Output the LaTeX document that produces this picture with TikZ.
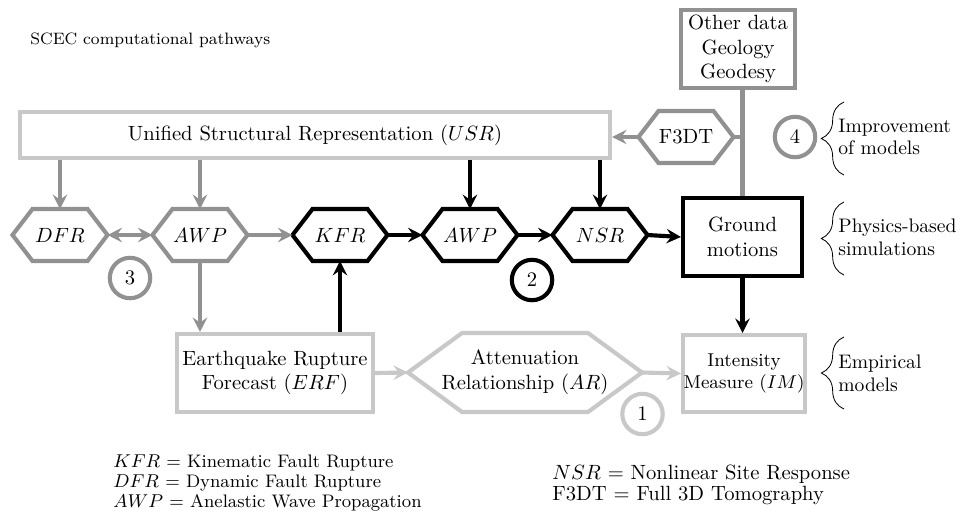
\documentclass[tikz,border=0pt]{standalone}
\usetikzlibrary{arrows.meta,decorations.pathreplacing,calc}
\definecolor{lgray}{RGB}{200,200,200}
\definecolor{mgray}{RGB}{145,145,145}
\newcommand\hexout[3]{\draw[#3,line width=2pt,line join=miter] (#1.west) -- ([xshift=#2]#1.north west) -- ([xshift=-#2]#1.north east) -- (#1.east) -- ([xshift=-#2]#1.south east) -- ([xshift=#2]#1.south west) -- cycle;}
\tikzset{
  box/.style={draw,line width=2pt,align=center,inner sep=0pt},
  hexnode/.style={minimum width=46.1pt,minimum height=25.2pt,inner sep=0pt,outer sep=0pt},
  num/.style={circle,draw,line width=2pt,minimum size=19.6pt,inner sep=0pt},
  arr/.style={line width=2pt,-{Stealth[length=7pt,width=7pt,inset=2.5pt]}},
  dblarr/.style={line width=2pt,{Stealth[length=7pt,width=7pt,inset=2.5pt]}-{Stealth[length=7pt,width=7pt,inset=2.5pt]}},
  bracestyle/.style={decorate,decoration={brace,amplitude=11pt},thin},
  side/.style={anchor=west,align=left,inner sep=0pt,font=\fontsize{9.5}{11}\selectfont},
  legend/.style={anchor=north west,align=left,inner sep=0pt,font=\fontsize{8.8}{9.8}\selectfont}
}
\begin{document}
\begin{tikzpicture}[x=0.485pt,y=-0.485pt]
\useasboundingbox (0,0) rectangle (964,511);
% title
\node[anchor=west,inner sep=0pt,font=\fontsize{8}{10}\selectfont] (title) at (30,40) {SCEC computational pathways};
% boxes
\node[box,lgray,minimum width=286.2pt,minimum height=22.3pt] (usr) at (315,135) {};
\node at (usr) {Unified Structural Representation ($USR$)};
\node[box,mgray,minimum width=55.3pt,minimum height=37.8pt] (other) at (738,49) {};
\node[align=center] at (other) {Other data\\Geology\\Geodesy};
\node[box,black,minimum width=57.7pt,minimum height=37.8pt] (gm) at (742.5,237) {};
\node[align=center] at (gm) {Ground\\motions};
\node[box,lgray,minimum width=59.2pt,minimum height=37.3pt] (im) at (744,373.5) {};
\node[align=center,font=\small] at (im) {Intensity\\Measure ($IM$)};
\node[box,lgray,minimum width=95.1pt,minimum height=37.8pt] (erf) at (275,373) {};
\node[align=center] at (erf) {Earthquake Rupture\\Forecast ($ERF$)};
% hexagons
\node[hexnode,minimum width=113.5pt,minimum height=38.3pt] (ar) at (525,372.5) {};
\hexout{ar}{26.2pt}{lgray}
\node[align=center] at (ar) {Attenuation\\Relationship ($AR$)};
\node[hexnode] (dfr) at (60,235) {$DFR$};
\hexout{dfr}{9.7pt}{mgray}
\node[hexnode] (awpg) at (200,235) {$AWP$};
\hexout{awpg}{9.7pt}{mgray}
\node[hexnode] (kfr) at (340,235) {$KFR$};
\hexout{kfr}{9.7pt}{black}
\node[hexnode] (awpb) at (470,235) {$AWP$};
\hexout{awpb}{9.7pt}{black}
\node[hexnode] (nsr) at (600,235) {$NSR$};
\hexout{nsr}{9.7pt}{black}
\node[hexnode] (f3dt) at (686,137) {F3DT};
\hexout{f3dt}{9.7pt}{mgray}
% numbered circles
\node[num,lgray,text=black] (c1) at (642.5,414) {1};
\node[num,black] (c2) at (532,280) {2};
\node[num,mgray,text=black] (c3) at (130,278) {3};
\node[num,mgray,text=black] (c4) at (795,137) {4};
% connectors
\draw[arr,mgray] (dfr.north |- usr.south) -- (dfr.north);
\draw[arr,mgray] (awpg.north |- usr.south) -- (awpg.north);
\draw[arr,black] (awpb.north |- usr.south) -- (awpb.north);
\draw[arr,black] (nsr.north |- usr.south) -- (nsr.north);
\draw[dblarr,mgray] (dfr.east) -- (awpg.west);
\draw[arr,mgray] (awpg.east) -- (kfr.west);
\draw[arr,black] (kfr.east) -- (awpb.west);
\draw[arr,black] (awpb.east) -- (nsr.west);
\draw[arr,black] (nsr.east) -- (gm.west);
\draw[arr,mgray] (awpg.south) -- (awpg.south |- erf.north);
\draw[arr,black] (kfr.south |- erf.north) -- (kfr.south);
\draw[arr,lgray] (erf.east) -- (ar.west);
\draw[arr,lgray] (ar.east) -- (im.west);
\draw[arr,black] (gm.south) -- (im.north -| gm.south);
\draw[line width=2pt,mgray] (gm.north |- other.south) -- (gm.north);
\draw[line width=2pt,mgray] (f3dt.east) -- (f3dt.east -| gm.north);
\draw[arr,mgray] (f3dt.west) -- (usr.east |- f3dt.west);
% braces
\draw[bracestyle] (844,175) -- (844,102);
\node[side] (t4) at (838,137) {Improvement\\of models};
\draw[bracestyle] (844,275) -- (844,202);
\node[side] (tph) at (838,237) {Physics-based\\simulations};
\draw[bracestyle] (844,409) -- (844,337);
\node[side] (temp) at (838,373) {Empirical\\models};
% legends
\node[legend] (leg1) at (113,454) {$KFR$ = Kinematic Fault Rupture\\$DFR$ = Dynamic Fault Rupture\\$AWP$ = Anelastic Wave Propagation};
\node[legend,font=\fontsize{10}{10}\selectfont] (leg2) at (552,465) {$NSR$ = Nonlinear Site Response\\F3DT = Full 3D Tomography};
\end{tikzpicture}
\end{document}
